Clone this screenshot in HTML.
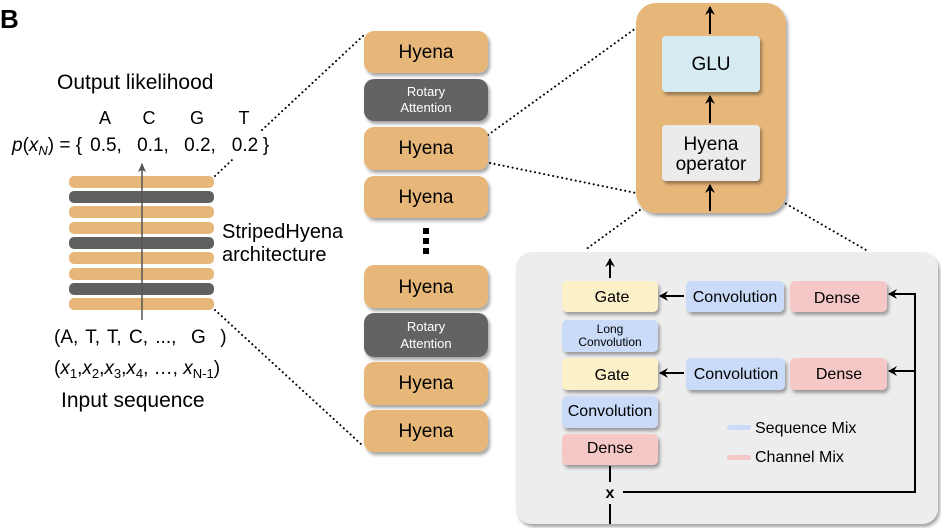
<!DOCTYPE html>
<html><head><meta charset="utf-8"><style>
html,body{margin:0;padding:0;background:#fff;}
svg{display:block;font-family:"Liberation Sans",Arial,sans-serif;}
</style></head><body>
<svg width="941" height="528" viewBox="0 0 941 528" xmlns="http://www.w3.org/2000/svg">
<defs>
<filter id="sh" x="-10%" y="-10%" width="130%" height="140%"><feDropShadow dx="2" dy="3" stdDeviation="1.5" flood-color="#000" flood-opacity="0.35"/></filter>
<marker id="ar" markerWidth="10" markerHeight="10" refX="8" refY="5" orient="auto" markerUnits="userSpaceOnUse"><path d="M0,0 L9,5 L0,10 L3,5 z" fill="#000"/></marker>
<marker id="ag" markerWidth="10" markerHeight="10" refX="8" refY="5" orient="auto" markerUnits="userSpaceOnUse"><path d="M0,1 L9,5 L0,9 L2,5 z" fill="#555"/></marker>
</defs>
<text x="0" y="28" font-size="26" font-weight="bold">B</text>

<!-- dotted lines -->
<g stroke="#000" stroke-width="2" stroke-dasharray="0.1,4.5" fill="none" stroke-linecap="round">
<line x1="262" y1="130" x2="364" y2="35"/>
<line x1="215" y1="310" x2="362" y2="445"/>
<line x1="488" y1="135" x2="636" y2="28"/>
<line x1="490" y1="163" x2="636" y2="193"/>
<line x1="677" y1="183" x2="585" y2="250"/>
<line x1="750" y1="183" x2="866" y2="250"/>
<line x1="215" y1="176" x2="232" y2="160"/>
</g>

<!-- left -->
<text x="57" y="89" font-size="21">Output likelihood</text>
<g font-size="18" text-anchor="middle"><text x="105" y="124">A</text><text x="149" y="124">C</text><text x="197" y="124">G</text><text x="244" y="124">T</text></g>
<text x="12" y="151" font-size="19"><tspan font-style="italic">p</tspan>(<tspan font-style="italic">x</tspan><tspan font-size="13" dy="4" font-style="italic">N</tspan><tspan dy="-4">) = {</tspan></text>
<g font-size="19" text-anchor="middle"><text x="106" y="151">0.5,</text><text x="153" y="151">0.1,</text><text x="200" y="151">0.2,</text><text x="245" y="151">0.2</text><text x="266" y="151">}</text></g>
<g>
<rect x="69" y="176" width="145" height="12" rx="5" fill="#E7B77A"/>
<rect x="69" y="191" width="145" height="12" rx="5" fill="#606060"/>
<rect x="69" y="206" width="145" height="12" rx="5" fill="#E7B77A"/>
<rect x="69" y="222" width="145" height="12" rx="5" fill="#E7B77A"/>
<rect x="69" y="237" width="145" height="12" rx="5" fill="#606060"/>
<rect x="69" y="252" width="145" height="12" rx="5" fill="#E7B77A"/>
<rect x="69" y="268" width="145" height="12" rx="5" fill="#E7B77A"/>
<rect x="69" y="283" width="145" height="12" rx="5" fill="#606060"/>
<rect x="69" y="298" width="145" height="12" rx="5" fill="#E7B77A"/>
</g>
<line x1="142" y1="320" x2="142" y2="164" stroke="#555" stroke-width="1.5" marker-end="url(#ag)"/>
<text x="222" y="238" font-size="20">StripedHyena</text>
<text x="222" y="261" font-size="20">architecture</text>
<text x="54" y="343" font-size="19" word-spacing="2">(A, T, T, C, ..., &#160;G &#160;)</text>
<text x="54" y="374" font-size="19">(<tspan font-style="italic">x</tspan><tspan font-size="13" dy="4">1</tspan><tspan dy="-4">,</tspan><tspan font-style="italic">x</tspan><tspan font-size="13" dy="4">2</tspan><tspan dy="-4">,</tspan><tspan font-style="italic">x</tspan><tspan font-size="13" dy="4">3</tspan><tspan dy="-4">,</tspan><tspan font-style="italic">x</tspan><tspan font-size="13" dy="4">4</tspan><tspan dy="-4">, …, </tspan><tspan font-style="italic">x</tspan><tspan font-size="13" dy="4">N-1</tspan><tspan dy="-4">)</tspan></text>
<text x="61" y="407" font-size="21">Input sequence</text>

<!-- middle stack -->
<g filter="url(#sh)">
<rect x="364" y="31" width="124" height="42" rx="10" fill="#E7B77A"/>
<rect x="364" y="79" width="124" height="42" rx="10" fill="#636363"/>
<rect x="364" y="127" width="124" height="43" rx="10" fill="#E7B77A"/>
<rect x="364" y="176" width="124" height="42" rx="10" fill="#E7B77A"/>
<rect x="364" y="265" width="124" height="43" rx="10" fill="#E7B77A"/>
<rect x="364" y="313" width="124" height="44" rx="10" fill="#636363"/>
<rect x="364" y="362" width="124" height="43" rx="10" fill="#E7B77A"/>
<rect x="364" y="410" width="124" height="42" rx="10" fill="#E7B77A"/>
</g>
<g font-size="19" text-anchor="middle">
<text x="426" y="58">Hyena</text><text x="426" y="154">Hyena</text><text x="426" y="203">Hyena</text>
<text x="426" y="293">Hyena</text><text x="426" y="389">Hyena</text><text x="426" y="437">Hyena</text>
</g>
<g font-size="13" text-anchor="middle" fill="#fff">
<text x="426" y="96">Rotary</text><text x="426" y="112">Attention</text>
<text x="426" y="331">Rotary</text><text x="426" y="348">Attention</text>
</g>
<g fill="#000"><rect x="423" y="228" width="6" height="6"/><rect x="423" y="238" width="6" height="6"/><rect x="423" y="248" width="6" height="6"/></g>

<!-- Hyena block detail -->
<rect x="636" y="3" width="150" height="210" rx="20" fill="#E7B77A" filter="url(#sh)"/>
<rect x="662" y="36" width="98" height="56" rx="4" fill="#D6EAF2" filter="url(#sh)"/>
<rect x="662" y="125" width="98" height="56" rx="4" fill="#EBEBEB" filter="url(#sh)"/>
<text x="711" y="70" font-size="19" text-anchor="middle">GLU</text>
<text x="711" y="150" font-size="19" text-anchor="middle">Hyena</text>
<text x="711" y="170" font-size="19" text-anchor="middle">operator</text>
<g stroke="#000" stroke-width="2">
<line x1="710" y1="34" x2="710" y2="7" marker-end="url(#ar)"/>
<line x1="710" y1="123" x2="710" y2="96" marker-end="url(#ar)"/>
<line x1="710" y1="211" x2="710" y2="185" marker-end="url(#ar)"/>
</g>

<!-- operator detail -->
<rect x="516" y="252" width="422" height="272" rx="16" fill="#EDEDED" filter="url(#sh)"/>
<g filter="url(#sh)">
<rect x="562" y="281" width="96" height="31" rx="5" fill="#FBF0C8"/>
<rect x="562" y="320" width="96" height="32" rx="5" fill="#C9DBF8"/>
<rect x="562" y="358" width="96" height="32" rx="5" fill="#FBF0C8"/>
<rect x="562" y="396" width="96" height="32" rx="5" fill="#C9DBF8"/>
<rect x="562" y="434" width="96" height="31" rx="5" fill="#F5C7C7"/>
<rect x="686" y="281" width="98" height="31" rx="5" fill="#C9DBF8"/>
<rect x="790" y="281" width="97" height="31" rx="5" fill="#F5C7C7"/>
<rect x="686" y="358" width="99" height="32" rx="5" fill="#C9DBF8"/>
<rect x="790" y="358" width="97" height="32" rx="5" fill="#F5C7C7"/>
</g>
<g font-size="16" text-anchor="middle">
<text x="612" y="302">Gate</text>
<text x="612" y="380">Gate</text>
<text x="610" y="416">Convolution</text>
<text x="610" y="453">Dense</text>
<text x="735" y="302">Convolution</text>
<text x="837" y="303">Dense</text>
<text x="736" y="379">Convolution</text>
<text x="839" y="379">Dense</text>
</g>
<text x="610" y="333" font-size="12" text-anchor="middle">Long</text>
<text x="610" y="346" font-size="12" text-anchor="middle">Convolution</text>
<rect x="727" y="425" width="24" height="5" rx="2.5" fill="#C9DBF8"/>
<rect x="727" y="455" width="24" height="5" rx="2.5" fill="#F5C7C7"/>
<text x="755" y="433" font-size="16">Sequence Mix</text>
<text x="755" y="462" font-size="16">Channel Mix</text>
<text x="610" y="498" font-size="16" font-weight="bold" text-anchor="middle">x</text>
<g stroke="#000" stroke-width="2" fill="none">
<line x1="610" y1="466" x2="610" y2="482"/>
<line x1="610" y1="504" x2="610" y2="524"/>
<polyline points="623,492 915,492 915,294 889,294" marker-end="url(#ar)"/>
<line x1="915" y1="371" x2="889" y2="371" marker-end="url(#ar)"/>
<line x1="684" y1="296" x2="660" y2="296" marker-end="url(#ar)"/>
<line x1="684" y1="373" x2="660" y2="373" marker-end="url(#ar)"/>
<line x1="610" y1="278" x2="610" y2="259" marker-end="url(#ar)"/>
</g>
</svg>
</body></html>
